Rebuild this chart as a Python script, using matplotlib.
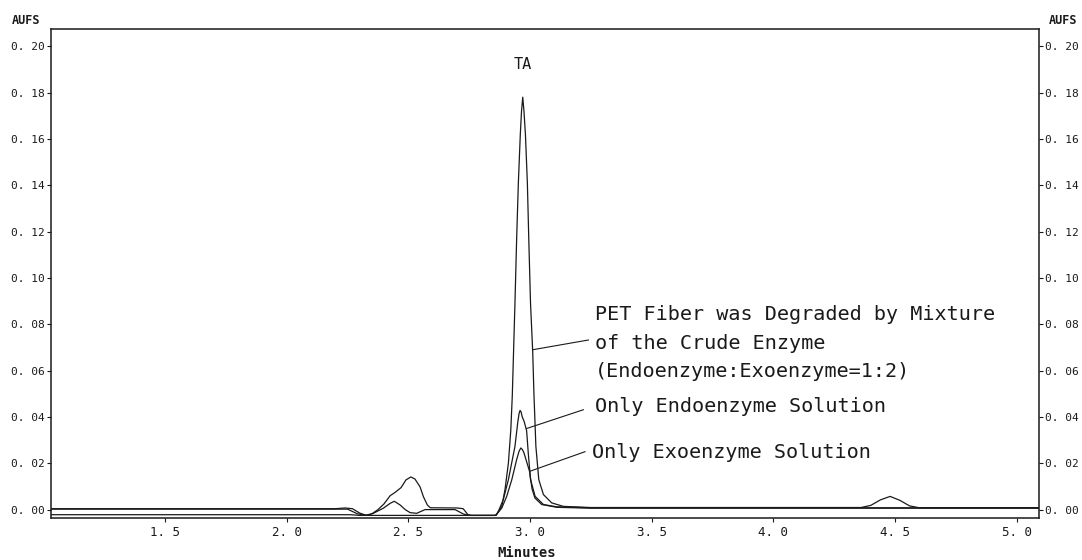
import matplotlib
matplotlib.use("Agg")
import matplotlib.pyplot as plt

plt.rcParams['font.family'] = ['DejaVu Sans Mono']

# Mixture of crude enzyme (endo:exo = 1:2)
mix_t = [1.03, 2.20, 2.24, 2.27, 2.30, 2.325, 2.35, 2.375, 2.40, 2.425, 2.445,
         2.47, 2.49, 2.51, 2.527, 2.548, 2.562, 2.578, 2.59, 2.70, 2.725, 2.745,
         2.76, 2.855, 2.863, 2.884, 2.897, 2.911, 2.921, 2.927, 2.938, 2.945,
         2.952, 2.960, 2.965, 2.970, 2.975, 2.981, 2.989, 2.995, 3.002, 3.011,
         3.016, 3.024, 3.036, 3.055, 3.089, 3.137, 3.25, 4.36, 4.40, 4.44, 4.48,
         4.52, 4.56, 4.60, 5.092]
mix_v = [0.0004, 0.0004, 0.0007, 0.0004, -0.0015, -0.0024, -0.0018, 0.0000,
         0.0025, 0.0060, 0.0074, 0.0095, 0.0128, 0.0141, 0.0132, 0.0098, 0.0055,
         0.0020, 0.0008, 0.0007, 0.0004, -0.0022, -0.0025, -0.0025, -0.0020,
         0.0014, 0.0086, 0.020, 0.0345, 0.049, 0.089, 0.117, 0.141, 0.162,
         0.172, 0.178, 0.172, 0.162, 0.141, 0.116, 0.089, 0.068, 0.050, 0.0273,
         0.0129, 0.0065, 0.0029, 0.0014, 0.0009, 0.0009, 0.0018, 0.0042, 0.0057,
         0.0040, 0.0016, 0.0008, 0.0008]

# Endoenzyme only
endo_t = [1.03, 2.25, 2.29, 2.33, 2.356, 2.397, 2.425, 2.442, 2.466, 2.487,
          2.507, 2.534, 2.56, 2.568, 2.692, 2.726, 2.75, 2.86, 2.870, 2.890,
          2.911, 2.938, 2.950, 2.955, 2.959, 2.963, 2.968, 2.976, 2.986, 2.993,
          3.002, 3.021, 3.055, 3.110, 3.25, 5.092]
endo_v = [0.0002, 0.0002, -0.0018, -0.0025, -0.0016, 0.0006, 0.0027, 0.0036,
          0.0020, 0.0000, -0.0013, -0.0016, -0.0004, 0.0000, 0.0000, -0.0019,
          -0.0025, -0.0025, -0.0007, 0.0043, 0.0129, 0.0273, 0.038, 0.0415,
          0.0428, 0.0422, 0.040, 0.038, 0.034, 0.024, 0.013, 0.0057, 0.0022,
          0.0012, 0.0008, 0.0008]

# Exoenzyme only
exo_t = [1.03, 2.26, 2.30, 2.86, 2.863, 2.884, 2.904, 2.925, 2.945, 2.955,
         2.962, 2.968, 2.975, 2.985, 2.998, 3.008, 3.020, 3.048, 3.110, 3.25,
         5.092]
exo_v = [-0.0022, -0.0022, -0.0025, -0.0025, -0.0020, 0.0007, 0.0057, 0.0129,
         0.0216, 0.0252, 0.0266, 0.0260, 0.0245, 0.021, 0.0165, 0.009, 0.0050,
         0.0022, 0.0010, 0.0006, 0.0006]

y_ticks = [0.00, 0.02, 0.04, 0.06, 0.08, 0.10, 0.12, 0.14, 0.16, 0.18, 0.20]
y_labels = ['0. 00', '0. 02', '0. 04', '0. 06', '0. 08', '0. 10',
            '0. 12', '0. 14', '0. 16', '0. 18', '0. 20']
x_ticks = [1.5, 2.0, 2.5, 3.0, 3.5, 4.0, 4.5, 5.0]
x_labels = ['1. 5', '2. 0', '2. 5', '3. 0', '3. 5', '4. 0', '4. 5', '5. 0']

mix_text = ['PET Fiber was Degraded by Mixture',
            'of the Crude Enzyme',
            '(Endoenzyme:Exoenzyme=1:2)']
endo_text = 'Only Endoenzyme Solution'
exo_text = 'Only Exoenzyme Solution'

fig = plt.figure(figsize=(10.82, 5.6), dpi=100)
ax = fig.add_axes([0.0471, 0.0755, 0.9132, 0.8722])

ink = '#1a1a1a'
ax.plot(mix_t, mix_v, color=ink, lw=0.9)
ax.plot(endo_t, endo_v, color=ink, lw=0.9)
ax.plot(exo_t, exo_v, color=ink, lw=0.9)

ax.set_xlim(1.031, 5.092)
ax.set_ylim(-0.0035, 0.2073)

ax.set_xticks(x_ticks)
ax.set_xticklabels(x_labels)
ax.set_yticks(y_ticks)
ax.set_yticklabels(y_labels)
ax.tick_params(axis='x', labelsize=9, length=3, width=0.8, colors=ink, pad=3)
ax.tick_params(axis='y', labelsize=8, length=3, width=0.8, colors=ink,
               right=True, labelright=True, pad=1.5)
for s in ax.spines.values():
    s.set_linewidth(1.1)
    s.set_color(ink)

# peak and trace labels
ax.text(2.970, 0.1919, 'TA', ha='center', va='center', fontsize=11, color=ink)

ax.plot([3.011, 3.240], [0.069, 0.0732], color=ink, lw=0.8)
for row, yv in zip(mix_text, [0.0840, 0.0719, 0.0594]):
    ax.text(3.267, yv, row, ha='left', va='center', fontsize=14.5, color=ink)

ax.plot([2.986, 3.219], [0.035, 0.0431], color=ink, lw=0.8)
ax.text(3.267, 0.0443, endo_text, ha='left', va='center', fontsize=14.5, color=ink)

ax.plot([2.998, 3.226], [0.0165, 0.0250], color=ink, lw=0.8)
ax.text(3.253, 0.0248, exo_text, ha='left', va='center', fontsize=14.5, color=ink)

fig.text(26 / 1082, 1 - 21 / 560, 'AUFS', ha='center', va='center',
         fontsize=8.5, fontweight='bold', color=ink)
fig.text(1063 / 1082, 1 - 20 / 560, 'AUFS', ha='center', va='center',
         fontsize=8.5, fontweight='bold', color=ink)
fig.text(527 / 1082, 1 - 553 / 560, 'Minutes', ha='center', va='center',
         fontsize=10, fontweight='bold', color=ink)

fig.savefig('out.png', dpi=100)
